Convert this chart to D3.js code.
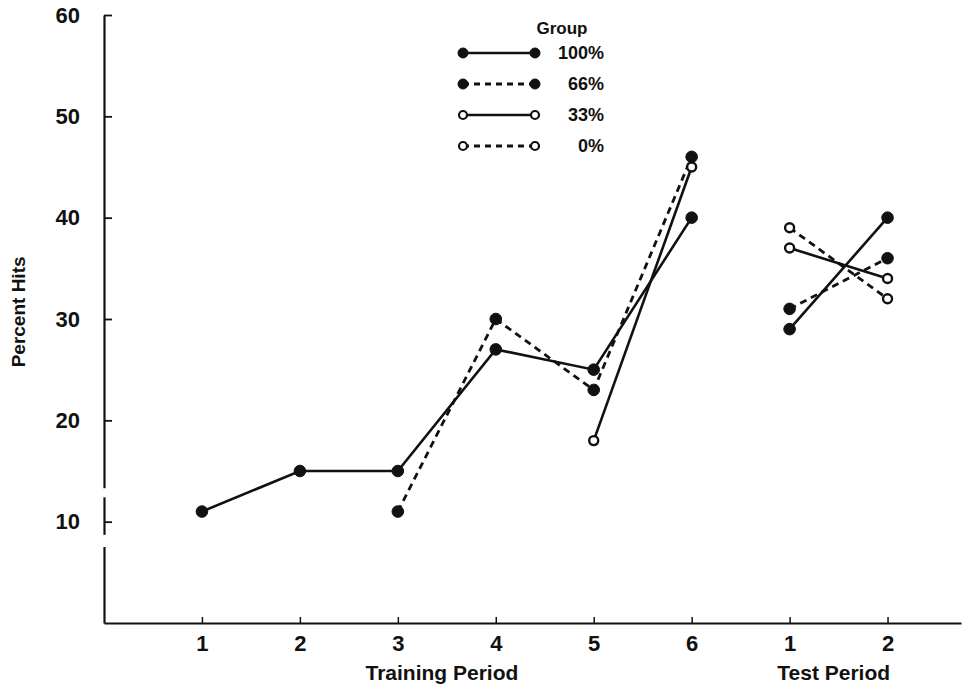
<!DOCTYPE html>
<html>
<head>
<meta charset="utf-8">
<script src="https://cdn.jsdelivr.net/npm/d3@7/dist/d3.min.js"></script>
<style>
  html, body { margin: 0; padding: 0; background: #fff; }
  svg { display: block; }
  text { font-family: "Liberation Sans", Arial, sans-serif; font-weight: bold; fill: #111; }
</style>
</head>
<body>
<svg id="chart" width="968" height="687"></svg>
<script>
// ---- data ----
const periodPositions = [1, 2, 3, 4, 5, 6, 7, 8];
const periodLabels = ["1", "2", "3", "4", "5", "6", "1", "2"];
const trainingPeriods = [1, 2, 3, 4, 5, 6];
const testPeriods = [7, 8];
const groups = ["100%", "66%", "33%", "0%"];
const training100 = [11, 15, 15, 27, 25, 40];
const training66 = [null, null, 11, 30, 23, 46];
const training33 = [null, null, null, null, 18, 45];
const training0 = [null, null, null, null, null, null];
const test100 = [29, 40];
const test66 = [31, 36];
const test33 = [37, 34];
const test0 = [39, 32];
const yTicks = [10, 20, 30, 40, 50, 60];
const yAxisBreaks = [[12.4, 13.3], [7.5, 8.7]];

const groupStyle = {
  "100%": { filled: true, dashed: false },
  "66%": { filled: true, dashed: true },
  "33%": { filled: false, dashed: false },
  "0%": { filled: false, dashed: true }
};
const trainingByGroup = { "100%": training100, "66%": training66, "33%": training33, "0%": training0 };
const testByGroup = { "100%": test100, "66%": test66, "33%": test33, "0%": test0 };

// ---- layout ----
const svg = d3.select("#chart");
const x = d3.scaleLinear().domain([0, 8.75]).range([104, 961]);
const y = d3.scaleLinear().domain([0, 60]).range([623, 15]);
const ink = "#111";

// y axis
const yAxis = d3.axisLeft(y).tickValues(yTicks).tickSize(-8).tickSizeOuter(0).tickPadding(24);
const gy = svg.append("g").attr("transform", `translate(${x(0)},0)`).call(yAxis);
gy.select(".domain").attr("stroke", ink).attr("stroke-width", 2.2);
gy.selectAll(".tick line").attr("stroke", ink).attr("stroke-width", 1.8);
gy.selectAll(".tick text").style("font-size", "22px").attr("fill", ink);
// breaks in the axis line
gy.selectAll("rect.brk").data(yAxisBreaks).enter().append("rect")
  .attr("class", "brk")
  .attr("x", -3).attr("width", 6.5)
  .attr("y", d => y(d[1])).attr("height", d => y(d[0]) - y(d[1]))
  .attr("fill", "#fff");

// x axis
const xAxis = d3.axisBottom(x).tickValues(periodPositions)
  .tickFormat((d, i) => periodLabels[i]).tickSize(-6).tickSizeOuter(0).tickPadding(12);
const gx = svg.append("g").attr("transform", `translate(0,${y(0)})`).call(xAxis);
gx.select(".domain").attr("stroke", ink).attr("stroke-width", 2.2);
gx.selectAll(".tick line").attr("stroke", ink).attr("stroke-width", 1.5);
gx.selectAll(".tick text").style("font-size", "22px").attr("fill", ink);

// axis titles
svg.append("text").attr("x", x(3.45)).attr("y", 680).attr("text-anchor", "middle")
  .style("font-size", "21px").text("Training Period");
svg.append("text").attr("x", x(7.45)).attr("y", 680).attr("text-anchor", "middle")
  .style("font-size", "21px").text("Test Period");
svg.append("text").attr("transform", `translate(25,${y(30.7)}) rotate(-90)`)
  .attr("text-anchor", "middle").style("font-size", "19px").text("Percent Hits");

// ---- series ----
const line = d3.line().defined(d => d.v != null).x(d => x(d.p)).y(d => y(d.v));
const plot = svg.append("g");

function drawSeries(g, periods, values) {
  const st = groupStyle[g];
  const pts = periods.map((p, i) => ({ p, v: values[i] }));
  plot.append("path").datum(pts)
    .attr("d", line).attr("fill", "none").attr("stroke", ink)
    .attr("stroke-width", st.dashed ? 2.8 : 2.6)
    .attr("stroke-dasharray", st.dashed ? "7,5" : null);
}
function drawPoints(g, periods, values) {
  const st = groupStyle[g];
  const pts = periods.map((p, i) => ({ p, v: values[i] })).filter(d => d.v != null);
  plot.selectAll(null).data(pts).enter().append("circle")
    .attr("cx", d => x(d.p)).attr("cy", d => y(d.v))
    .attr("r", st.filled ? 5.8 : 4.5)
    .attr("fill", st.filled ? ink : "#fff")
    .attr("stroke", ink).attr("stroke-width", st.filled ? 1 : 2.4);
}
groups.forEach(g => {
  drawSeries(g, trainingPeriods, trainingByGroup[g]);
  drawSeries(g, testPeriods, testByGroup[g]);
});
groups.forEach(g => {
  drawPoints(g, trainingPeriods, trainingByGroup[g]);
  drawPoints(g, testPeriods, testByGroup[g]);
});

// ---- legend ----
const legend = svg.append("g").attr("transform", "translate(460,0)");
legend.append("text").attr("x", 102).attr("y", 34).attr("text-anchor", "middle")
  .style("font-size", "17px").text("Group");
const rowY = d3.scalePoint().domain(groups).range([53, 146]);
groups.forEach(g => {
  const st = groupStyle[g];
  const yy = rowY(g);
  legend.append("line").attr("x1", 3).attr("x2", 75).attr("y1", yy).attr("y2", yy)
    .attr("stroke", ink).attr("stroke-width", st.dashed ? 2.8 : 2.6)
    .attr("stroke-dasharray", st.dashed ? "6,5" : null);
  [3, 75].forEach(cx => {
    legend.append("circle").attr("cx", cx).attr("cy", yy)
      .attr("r", st.filled ? 5 : 4)
      .attr("fill", st.filled ? ink : "#fff")
      .attr("stroke", ink).attr("stroke-width", st.filled ? 1 : 2.2);
  });
  legend.append("text").attr("x", 144).attr("y", yy + 6).attr("text-anchor", "end")
    .style("font-size", "18px").text(g);
});
</script>
</body>
</html>
